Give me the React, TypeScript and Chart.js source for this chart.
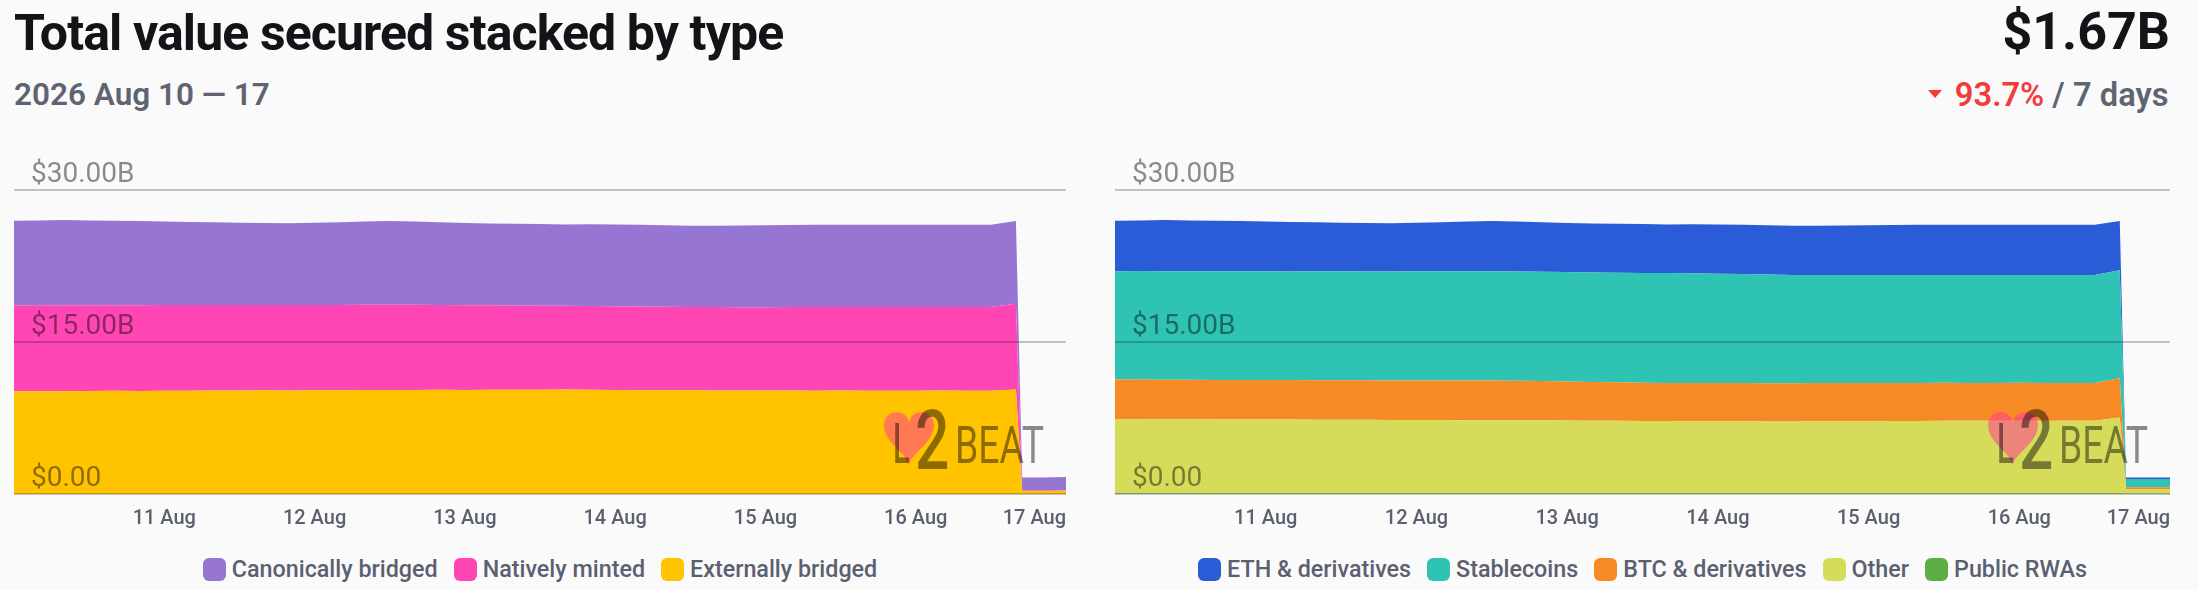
import React, { useEffect, useRef } from "react";
import { Chart, registerables } from "chart.js";

Chart.register(...registerables);

// ---- data (hours since 2026 Aug 10 00:00) ----
const HOURS = [
  0, 4, 8, 12, 16, 20, 24, 28, 32, 36, 40, 44, 48, 52, 56, 60, 64, 68, 72, 76,
  80, 84, 88, 92, 96, 100, 104, 108, 112, 116, 120, 124, 128, 132, 136, 140,
  144, 148, 152, 156, 160, 161, 164, 168,
];

const X_TICK_LABELS = ["", "11 Aug", "12 Aug", "13 Aug", "14 Aug", "15 Aug", "16 Aug", "17 Aug"];
const Y_TICK_LABELS = ["$0.00", "$15.00B", "$30.00B"];

// left chart (values in $B), bottom -> top
const EXTERNALLY_BRIDGED = [
  10.13, 10.15, 10.14, 10.16, 10.18, 10.17, 10.2, 10.19, 10.22, 10.21,
  10.23, 10.22, 10.25, 10.24, 10.26, 10.27, 10.26, 10.28, 10.27, 10.29,
  10.3, 10.29, 10.31, 10.28, 10.27, 10.25, 10.24, 10.23, 10.22, 10.21,
  10.22, 10.21, 10.2, 10.21, 10.2, 10.19, 10.2, 10.21, 10.2, 10.19,
  10.32, 0.3, 0.3, 0.31,
];
const NATIVELY_MINTED = [
  8.48, 8.47, 8.49, 8.46, 8.45, 8.46, 8.44, 8.45, 8.43, 8.44,
  8.42, 8.43, 8.41, 8.42, 8.42, 8.41, 8.42, 8.38, 8.36, 8.33,
  8.3, 8.29, 8.27, 8.28, 8.26, 8.25, 8.24, 8.23, 8.24, 8.23,
  8.22, 8.24, 8.25, 8.24, 8.25, 8.26, 8.25, 8.24, 8.25, 8.26,
  8.46, 0.05, 0.05, 0.05,
];
const CANONICALLY_BRIDGED = [
  8.35, 8.38, 8.4, 8.38, 8.33, 8.3, 8.26, 8.21, 8.17, 8.13,
  8.09, 8.07, 8.1, 8.16, 8.2, 8.27, 8.22, 8.16, 8.12, 8.08,
  8.08, 8.07, 8.02, 8.07, 8.07, 8.06, 8.04, 8.02, 8.01, 8.06,
  8.09, 8.1, 8.11, 8.12, 8.11, 8.12, 8.12, 8.11, 8.12, 8.12,
  8.15, 1.28, 1.29, 1.31,
];

// right chart (values in $B), bottom -> top
const PUBLIC_RWAS = [
  0.04, 0.04, 0.04, 0.04, 0.04, 0.04, 0.04, 0.04, 0.04, 0.04,
  0.04, 0.04, 0.04, 0.04, 0.04, 0.04, 0.04, 0.04, 0.04, 0.04,
  0.04, 0.04, 0.04, 0.04, 0.04, 0.04, 0.04, 0.04, 0.04, 0.04,
  0.04, 0.04, 0.04, 0.04, 0.04, 0.04, 0.04, 0.04, 0.04, 0.04,
  0.04, 0.02, 0.02, 0.02,
];
const OTHER = [
  7.35, 7.36, 7.34, 7.33, 7.32, 7.32, 7.31, 7.3, 7.29, 7.29,
  7.28, 7.27, 7.26, 7.26, 7.25, 7.25, 7.25, 7.23, 7.21, 7.2,
  7.18, 7.17, 7.16, 7.15, 7.14, 7.13, 7.12, 7.12, 7.13, 7.14,
  7.15, 7.16, 7.17, 7.18, 7.18, 7.19, 7.19, 7.18, 7.19, 7.19,
  7.51, 0.43, 0.42, 0.43,
];
const BTC_DERIVATIVES = [
  3.9, 3.9, 3.9, 3.9, 3.9, 3.89, 3.9, 3.9, 3.9, 3.89,
  3.9, 3.9, 3.9, 3.9, 3.9, 3.9, 3.88, 3.87, 3.85, 3.82,
  3.8, 3.78, 3.76, 3.77, 3.77, 3.78, 3.78, 3.78, 3.78, 3.77,
  3.77, 3.76, 3.75, 3.75, 3.74, 3.73, 3.74, 3.74, 3.73, 3.73,
  3.87, 0.22, 0.22, 0.22,
];
const STABLECOINS = [
  10.69, 10.7, 10.71, 10.7, 10.72, 10.74, 10.72, 10.72, 10.74, 10.76,
  10.74, 10.74, 10.77, 10.78, 10.8, 10.79, 10.79, 10.79, 10.8, 10.81,
  10.82, 10.83, 10.85, 10.82, 10.79, 10.75, 10.72, 10.68, 10.65, 10.65,
  10.65, 10.64, 10.65, 10.63, 10.65, 10.64, 10.64, 10.64, 10.65, 10.64,
  10.66, 0.8, 0.81, 0.8,
];
const ETH_DERIVATIVES = [
  4.98, 5.0, 5.04, 5.03, 4.98, 4.94, 4.93, 4.89, 4.85, 4.8,
  4.78, 4.77, 4.79, 4.84, 4.89, 4.97, 4.94, 4.89, 4.85, 4.83,
  4.84, 4.83, 4.79, 4.85, 4.86, 4.86, 4.86, 4.86, 4.87, 4.9,
  4.92, 4.95, 4.95, 4.97, 4.95, 4.97, 4.96, 4.96, 4.96, 4.97,
  4.85, 0.16, 0.16, 0.17,
];

type Series = { label: string; color: string; values: number[] };

// stacking order bottom -> top
const LEFT_SERIES: Series[] = [
  { label: "Externally bridged", color: "#ffc300", values: EXTERNALLY_BRIDGED },
  { label: "Natively minted", color: "#ff46b4", values: NATIVELY_MINTED },
  { label: "Canonically bridged", color: "#9676d2", values: CANONICALLY_BRIDGED },
];
const RIGHT_SERIES: Series[] = [
  { label: "Public RWAs", color: "#5fae45", values: PUBLIC_RWAS },
  { label: "Other", color: "#d6dc5a", values: OTHER },
  { label: "BTC & derivatives", color: "#f68a24", values: BTC_DERIVATIVES },
  { label: "Stablecoins", color: "#2fc3b4", values: STABLECOINS },
  { label: "ETH & derivatives", color: "#2b5cd8", values: ETH_DERIVATIVES },
];

const FONT = "Roboto, 'Noto Sans', sans-serif";

const watermark = {
  id: "l2beatWatermark",
  afterDatasetsDraw(chart: any) {
    const { ctx, chartArea: a } = chart;
    const ox = a.right - 180;
    const oy = a.bottom - 86;
    ctx.save();
    // heart
    const x = ox - 2, y = oy, w = 50, h = 58, cx = x + w / 2;
    ctx.fillStyle = "rgba(255,60,150,0.55)";
    ctx.beginPath();
    ctx.moveTo(cx, y + h * 0.28);
    ctx.bezierCurveTo(cx, y, x, y, x, y + h * 0.3);
    ctx.bezierCurveTo(x, y + h * 0.6, cx, y + h * 0.8, cx, y + h);
    ctx.bezierCurveTo(cx, y + h * 0.8, x + w, y + h * 0.6, x + w, y + h * 0.3);
    ctx.bezierCurveTo(x + w, y, cx, y, cx, y + h * 0.28);
    ctx.fill();
    ctx.fillStyle = "rgba(0,0,0,0.45)";
    ctx.textBaseline = "alphabetic";
    const draw = (t: string, tx: number, ty: number, size: number, weight: string, sx: number) => {
      ctx.save();
      ctx.font = `${weight} ${size}px Roboto`;
      ctx.translate(tx, ty);
      ctx.scale(sx, 1);
      ctx.fillText(t, 0, 0);
      ctx.restore();
    };
    draw("L", ox + 7, oy + 55, 56, "500", 0.55);
    draw("2", ox + 29, oy + 61, 84, "500", 0.72);
    draw("BEAT", ox + 69, oy + 55, 52, "400", 0.72);
    ctx.restore();
  },
};

function StackedChart({ series, width }: { series: Series[]; width: number }) {
  const ref = useRef<HTMLCanvasElement>(null);
  useEffect(() => {
    const chart = new Chart(ref.current as HTMLCanvasElement, {
      type: "line",
      data: {
        datasets: series.map((s, i) => ({
          label: s.label,
          data: HOURS.map((hr, j) => ({ x: hr, y: s.values[j] })),
          backgroundColor: s.color,
          borderColor: s.color,
          borderWidth: 0,
          pointRadius: 0,
          tension: 0,
          fill: i === 0 ? "origin" : "-1",
        })),
      },
      options: {
        animation: false,
        responsive: false,
        maintainAspectRatio: false,
        layout: { padding: { top: 50, left: 0, right: 0, bottom: 0 } },
        plugins: { legend: { display: false }, tooltip: { enabled: false } },
        scales: {
          x: {
            type: "linear",
            min: 0,
            max: 168,
            grid: { display: false, drawTicks: false },
            border: { display: false },
            afterFit: (s: any) => {
              s.paddingLeft = 0;
              s.paddingRight = 0;
            },
            afterBuildTicks: (s: any) => {
              s.ticks = X_TICK_LABELS.map((_, i) => ({ value: i * 24 }));
            },
            ticks: {
              autoSkip: false,
              maxRotation: 0,
              minRotation: 0,
              align: "inner",
              padding: 13,
              color: "#5b6070",
              font: { family: FONT, size: 20, weight: "500" },
              callback: (_v: any, i: number) => X_TICK_LABELS[i],
            },
          },
          y: {
            stacked: true,
            min: 0,
            max: 30,
            position: "left",
            grid: { color: "rgba(0,0,0,0.22)", lineWidth: 2, drawTicks: false, z: 1 },
            border: { display: false },
            afterFit: (s: any) => {
              s.width = 0;
              s.paddingTop = 0;
              s.paddingBottom = 0;
            },
            afterBuildTicks: (s: any) => {
              s.ticks = Y_TICK_LABELS.map((_, i) => ({ value: i * 15 }));
            },
            ticks: {
              mirror: true,
              padding: 17,
              labelOffset: -15,
              z: 1,
              color: "rgba(0,0,0,0.45)",
              font: { family: FONT, size: 28, weight: "400" },
              callback: (_v: any, i: number) => Y_TICK_LABELS[i],
            },
          },
        },
      } as any,
      plugins: [watermark],
    });
    return () => chart.destroy();
  }, [series, width]);
  return <canvas ref={ref} width={width} height={404} style={{ width, height: 404, display: "block" }} />;
}

function Legend({ series, left, width }: { series: Series[]; left: number; width: number }) {
  const items = [...series].reverse();
  return (
    <div
      style={{
        position: "absolute",
        left,
        width,
        top: 558,
        height: 23,
        display: "flex",
        justifyContent: "center",
        alignItems: "center",
        gap: 16,
      }}
    >
      {items.map((s) => (
        <div key={s.label} style={{ display: "flex", alignItems: "center", gap: 6 }}>
          <div style={{ width: 23, height: 23, borderRadius: 6, background: s.color }} />
          <span style={{ fontSize: 23.3, fontWeight: 500, color: "#5b6070", lineHeight: "23px", whiteSpace: "nowrap" }}>
            {s.label}
          </span>
        </div>
      ))}
    </div>
  );
}

export default function App() {
  useEffect(() => {
    document.body.style.margin = "0";
    document.body.style.background = "#fafafa";
  }, []);
  return (
    <div
      style={{
        position: "fixed",
        left: 0,
        top: 0,
        width: 2198,
        height: 590,
        background: "#fafafa",
        fontFamily: FONT,
        overflow: "hidden",
      }}
    >
      <div style={{ position: "absolute", left: 14, top: 3, fontSize: 50, fontWeight: 700, letterSpacing: "-0.9px", lineHeight: "60px", color: "#131318", whiteSpace: "nowrap" }}>
        Total value secured stacked by type
      </div>
      <div style={{ position: "absolute", right: 28, top: 2, fontSize: 52, fontWeight: 700, lineHeight: "60px", color: "#131318", whiteSpace: "nowrap" }}>
        $1.67B
      </div>
      <div style={{ position: "absolute", left: 14, top: 75, fontSize: 31.5, fontWeight: 600, lineHeight: "40px", color: "#5f6472", whiteSpace: "nowrap" }}>
        2026 Aug 10 — 17
      </div>
      <div
        style={{
          position: "absolute",
          left: 1928,
          top: 90,
          width: 0,
          height: 0,
          borderLeft: "7.5px solid transparent",
          borderRight: "7.5px solid transparent",
          borderTop: "8px solid #f23c3c",
        }}
      />
      <div style={{ position: "absolute", right: 29.5, top: 75, fontSize: 32.7, fontWeight: 600, lineHeight: "40px", color: "#5f6472", whiteSpace: "nowrap" }}>
        <span style={{ color: "#f23c3c" }}>93.7%</span> / 7 days
      </div>
      <div style={{ position: "absolute", left: 14, top: 140 }}>
        <StackedChart series={LEFT_SERIES} width={1052} />
      </div>
      <div style={{ position: "absolute", left: 1115, top: 140 }}>
        <StackedChart series={RIGHT_SERIES} width={1055} />
      </div>
      <Legend series={LEFT_SERIES} left={14} width={1052} />
      <Legend series={RIGHT_SERIES} left={1115} width={1055} />
    </div>
  );
}
